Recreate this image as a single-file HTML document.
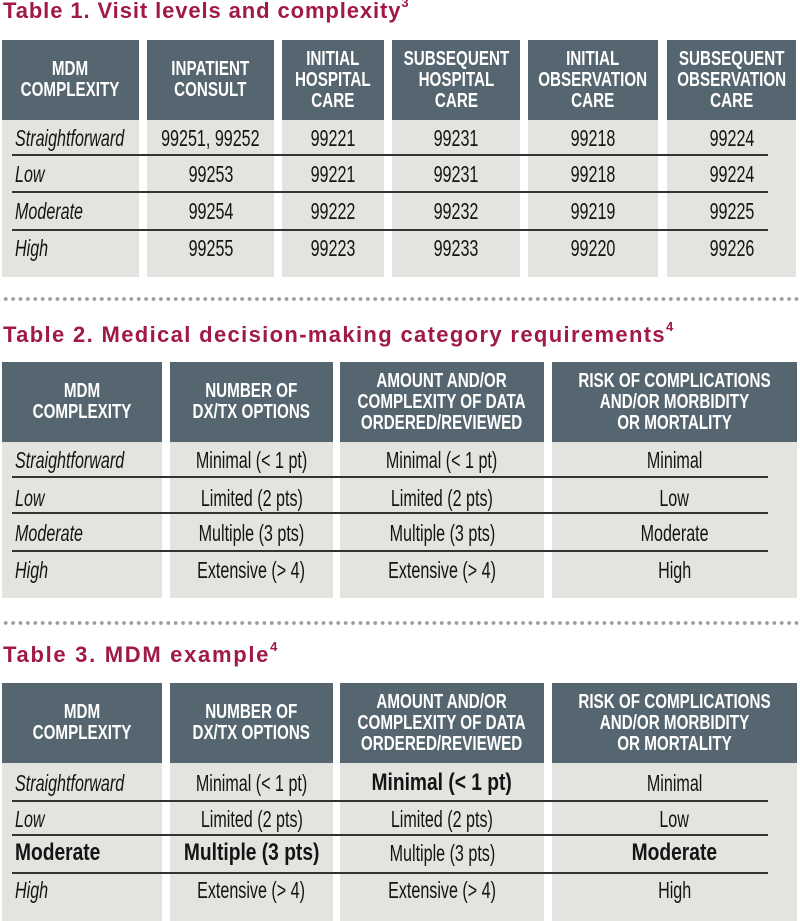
<!DOCTYPE html>
<html><head><meta charset="utf-8"><style>
body{margin:0;width:800px;height:921px;position:relative;background:#fff;overflow:hidden;font-family:"Liberation Sans",sans-serif}
.ti{position:absolute;left:3px;font-size:22px;line-height:22px;font-weight:bold;color:#a01a45;letter-spacing:0.8px;white-space:nowrap}
.ti sup{font-size:13px;vertical-align:top;position:relative;top:-4px;letter-spacing:0;line-height:13px}
.h{position:absolute;background:#556670;color:#fff;display:flex;align-items:center;justify-content:center;font-weight:bold;font-size:20px;line-height:21px;text-align:center}
.h span{display:inline-block;transform:scaleX(.76);white-space:nowrap}
.b{position:absolute;background:#e3e3e0}
.c{position:absolute;height:26px;line-height:26px;display:flex;justify-content:center;font-size:23px;color:#141414;white-space:nowrap}
.c span{display:inline-block;transform:scaleX(.7)}
.l{justify-content:flex-start}
.l span{font-style:italic;transform-origin:left center}
.c span.bd{font-weight:bold;font-size:24px;transform:scaleX(.8);font-style:normal}
.r{position:absolute;left:12px;width:756px;height:2px;background:#333}
.d{position:absolute;left:0;width:800px;height:6px;background:radial-gradient(circle,#9c9c9c 1.6px,transparent 2.2px) 2px 0/7.4px 6px repeat-x}
</style></head><body>

<!-- TABLE 1 -->
<div class="ti" style="top:0;letter-spacing:0.9px">Table 1. Visit levels and complexity<sup>3</sup></div>

<div class="h" style="left:2px;top:40px;width:137px;height:80px"><span>MDM<br>COMPLEXITY</span></div>
<div class="h" style="left:147px;top:40px;width:127px;height:80px"><span>INPATIENT<br>CONSULT</span></div>
<div class="h" style="left:282px;top:40px;width:102px;height:80px"><span>INITIAL<br>HOSPITAL<br>CARE</span></div>
<div class="h" style="left:392px;top:40px;width:128px;height:80px"><span>SUBSEQUENT<br>HOSPITAL<br>CARE</span></div>
<div class="h" style="left:528px;top:40px;width:130px;height:80px"><span>INITIAL<br>OBSERVATION<br>CARE</span></div>
<div class="h" style="left:667px;top:40px;width:129px;height:80px"><span>SUBSEQUENT<br>OBSERVATION<br>CARE</span></div>

<div class="b" style="left:2px;top:120px;width:137px;height:157px"></div>
<div class="b" style="left:147px;top:120px;width:127px;height:157px"></div>
<div class="b" style="left:282px;top:120px;width:102px;height:157px"></div>
<div class="b" style="left:392px;top:120px;width:128px;height:157px"></div>
<div class="b" style="left:528px;top:120px;width:130px;height:157px"></div>
<div class="b" style="left:667px;top:120px;width:129px;height:157px"></div>

<div class="r" style="top:154px"></div>
<div class="r" style="top:191px"></div>
<div class="r" style="top:229px"></div>

<div class="c l" style="left:15px;top:125px;width:124px"><span>Straightforward</span></div>
<div class="c" style="left:147px;top:125px;width:127px"><span>99251, 99252</span></div>
<div class="c" style="left:282px;top:125px;width:102px"><span>99221</span></div>
<div class="c" style="left:392px;top:125px;width:128px"><span>99231</span></div>
<div class="c" style="left:528px;top:125px;width:130px"><span>99218</span></div>
<div class="c" style="left:667px;top:125px;width:129px"><span>99224</span></div>

<div class="c l" style="left:15px;top:161px;width:124px"><span>Low</span></div>
<div class="c" style="left:147px;top:161px;width:127px"><span>99253</span></div>
<div class="c" style="left:282px;top:161px;width:102px"><span>99221</span></div>
<div class="c" style="left:392px;top:161px;width:128px"><span>99231</span></div>
<div class="c" style="left:528px;top:161px;width:130px"><span>99218</span></div>
<div class="c" style="left:667px;top:161px;width:129px"><span>99224</span></div>

<div class="c l" style="left:15px;top:198px;width:124px"><span>Moderate</span></div>
<div class="c" style="left:147px;top:198px;width:127px"><span>99254</span></div>
<div class="c" style="left:282px;top:198px;width:102px"><span>99222</span></div>
<div class="c" style="left:392px;top:198px;width:128px"><span>99232</span></div>
<div class="c" style="left:528px;top:198px;width:130px"><span>99219</span></div>
<div class="c" style="left:667px;top:198px;width:129px"><span>99225</span></div>

<div class="c l" style="left:15px;top:235px;width:124px"><span>High</span></div>
<div class="c" style="left:147px;top:235px;width:127px"><span>99255</span></div>
<div class="c" style="left:282px;top:235px;width:102px"><span>99223</span></div>
<div class="c" style="left:392px;top:235px;width:128px"><span>99233</span></div>
<div class="c" style="left:528px;top:235px;width:130px"><span>99220</span></div>
<div class="c" style="left:667px;top:235px;width:129px"><span>99226</span></div>

<div class="d" style="top:296px"></div>

<!-- TABLE 2 -->
<div class="ti" style="top:324px;letter-spacing:1.35px">Table 2. Medical decision-making category requirements<sup>4</sup></div>

<div class="h" style="left:2px;top:362px;width:160px;height:80px"><span>MDM<br>COMPLEXITY</span></div>
<div class="h" style="left:170px;top:362px;width:163px;height:80px"><span>NUMBER OF<br>DX/TX OPTIONS</span></div>
<div class="h" style="left:340px;top:362px;width:204px;height:80px"><span>AMOUNT AND/OR<br>COMPLEXITY OF DATA<br>ORDERED/REVIEWED</span></div>
<div class="h" style="left:552px;top:362px;width:245px;height:80px"><span>RISK OF COMPLICATIONS<br>AND/OR MORBIDITY<br>OR MORTALITY</span></div>

<div class="b" style="left:2px;top:442px;width:160px;height:156px"></div>
<div class="b" style="left:170px;top:442px;width:163px;height:156px"></div>
<div class="b" style="left:340px;top:442px;width:204px;height:156px"></div>
<div class="b" style="left:552px;top:442px;width:245px;height:156px"></div>

<div class="r" style="top:476px"></div>
<div class="r" style="top:512px"></div>
<div class="r" style="top:550px"></div>

<div class="c l" style="left:15px;top:447px;width:147px"><span>Straightforward</span></div>
<div class="c" style="left:170px;top:447px;width:163px"><span>Minimal (&lt; 1 pt)</span></div>
<div class="c" style="left:340px;top:447px;width:204px"><span>Minimal (&lt; 1 pt)</span></div>
<div class="c" style="left:552px;top:447px;width:245px"><span>Minimal</span></div>

<div class="c l" style="left:15px;top:485px;width:147px"><span>Low</span></div>
<div class="c" style="left:170px;top:485px;width:163px"><span>Limited (2 pts)</span></div>
<div class="c" style="left:340px;top:485px;width:204px"><span>Limited (2 pts)</span></div>
<div class="c" style="left:552px;top:485px;width:245px"><span>Low</span></div>

<div class="c l" style="left:15px;top:520px;width:147px"><span>Moderate</span></div>
<div class="c" style="left:170px;top:520px;width:163px"><span>Multiple (3 pts)</span></div>
<div class="c" style="left:340px;top:520px;width:204px"><span>Multiple (3 pts)</span></div>
<div class="c" style="left:552px;top:520px;width:245px"><span>Moderate</span></div>

<div class="c l" style="left:15px;top:557px;width:147px"><span>High</span></div>
<div class="c" style="left:170px;top:557px;width:163px"><span>Extensive (&gt; 4)</span></div>
<div class="c" style="left:340px;top:557px;width:204px"><span>Extensive (&gt; 4)</span></div>
<div class="c" style="left:552px;top:557px;width:245px"><span>High</span></div>

<div class="d" style="top:620px"></div>

<!-- TABLE 3 -->
<div class="ti" style="top:644px;letter-spacing:1.7px">Table 3. MDM example<sup>4</sup></div>

<div class="h" style="left:2px;top:683px;width:160px;height:80px"><span>MDM<br>COMPLEXITY</span></div>
<div class="h" style="left:170px;top:683px;width:163px;height:80px"><span>NUMBER OF<br>DX/TX OPTIONS</span></div>
<div class="h" style="left:340px;top:683px;width:204px;height:80px"><span>AMOUNT AND/OR<br>COMPLEXITY OF DATA<br>ORDERED/REVIEWED</span></div>
<div class="h" style="left:552px;top:683px;width:245px;height:80px"><span>RISK OF COMPLICATIONS<br>AND/OR MORBIDITY<br>OR MORTALITY</span></div>

<div class="b" style="left:2px;top:763px;width:160px;height:158px"></div>
<div class="b" style="left:170px;top:763px;width:163px;height:158px"></div>
<div class="b" style="left:340px;top:763px;width:204px;height:158px"></div>
<div class="b" style="left:552px;top:763px;width:245px;height:158px"></div>

<div class="r" style="top:800px"></div>
<div class="r" style="top:834px"></div>
<div class="r" style="top:872px"></div>

<div class="c l" style="left:15px;top:770px;width:147px"><span>Straightforward</span></div>
<div class="c" style="left:170px;top:770px;width:163px"><span>Minimal (&lt; 1 pt)</span></div>
<div class="c" style="left:340px;top:770px;width:204px"><span class="bd">Minimal (&lt; 1 pt)</span></div>
<div class="c" style="left:552px;top:770px;width:245px"><span>Minimal</span></div>

<div class="c l" style="left:15px;top:806px;width:147px"><span>Low</span></div>
<div class="c" style="left:170px;top:806px;width:163px"><span>Limited (2 pts)</span></div>
<div class="c" style="left:340px;top:806px;width:204px"><span>Limited (2 pts)</span></div>
<div class="c" style="left:552px;top:806px;width:245px"><span>Low</span></div>

<div class="c l" style="left:15px;top:840px;width:147px"><span class="bd">Moderate</span></div>
<div class="c" style="left:170px;top:840px;width:163px"><span class="bd">Multiple (3 pts)</span></div>
<div class="c" style="left:340px;top:840px;width:204px"><span>Multiple (3 pts)</span></div>
<div class="c" style="left:552px;top:840px;width:245px"><span class="bd">Moderate</span></div>

<div class="c l" style="left:15px;top:877px;width:147px"><span>High</span></div>
<div class="c" style="left:170px;top:877px;width:163px"><span>Extensive (&gt; 4)</span></div>
<div class="c" style="left:340px;top:877px;width:204px"><span>Extensive (&gt; 4)</span></div>
<div class="c" style="left:552px;top:877px;width:245px"><span>High</span></div>

</body></html>
